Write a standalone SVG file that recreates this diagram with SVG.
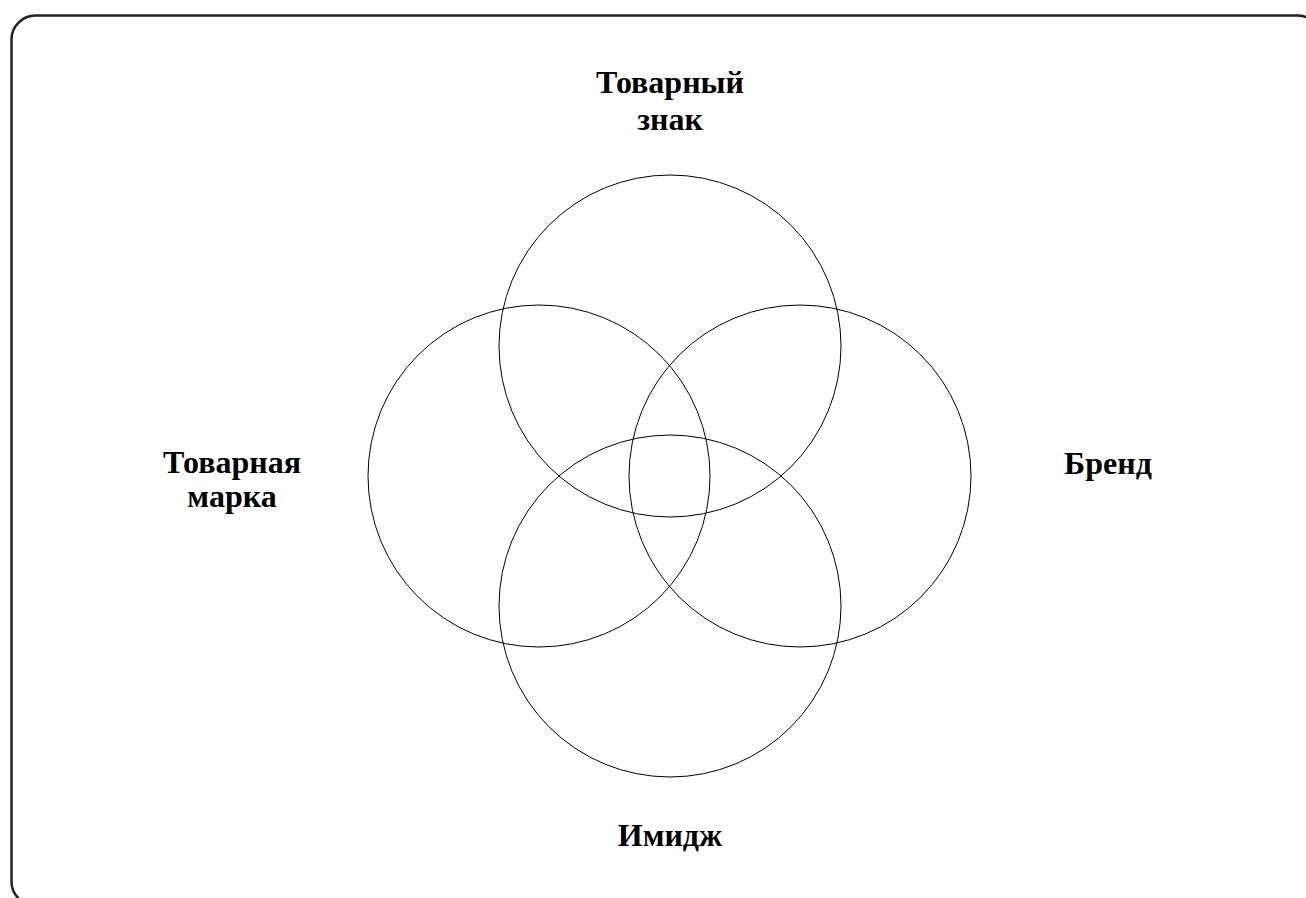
<svg xmlns="http://www.w3.org/2000/svg" width="1306" height="898" viewBox="0 0 1306 898">
<style>
.c{fill:none;stroke:#000;stroke-width:1}
.t{font-family:"Liberation Serif","Times New Roman",serif;font-weight:bold;font-size:32px;fill:#000;text-anchor:middle}
</style>
<rect x="0" y="0" width="1306" height="898" fill="#fff"/>
<rect x="11.5" y="15.5" width="1310" height="890" rx="24" ry="24" fill="none" stroke="#222" stroke-width="2.5"/>
<g id="top"><circle class="c" cx="670" cy="346" r="171"/></g>
<g id="left"><circle class="c" cx="539" cy="476" r="171"/></g>
<g id="right"><circle class="c" cx="800" cy="476" r="171"/></g>
<g id="bottom"><circle class="c" cx="670" cy="606" r="171"/></g>
<g id="label-top"><text class="t" x="670" y="93">Товарный</text><text class="t" x="670" y="130">знак</text></g>
<g id="label-left"><text class="t" x="232" y="473">Товарная</text><text class="t" x="232" y="507">марка</text></g>
<g id="label-right"><text class="t" x="1108" y="474">Бренд</text></g>
<g id="label-bottom"><text class="t" x="670" y="846">Имидж</text></g>
<g id="connectors"></g>
</svg>
